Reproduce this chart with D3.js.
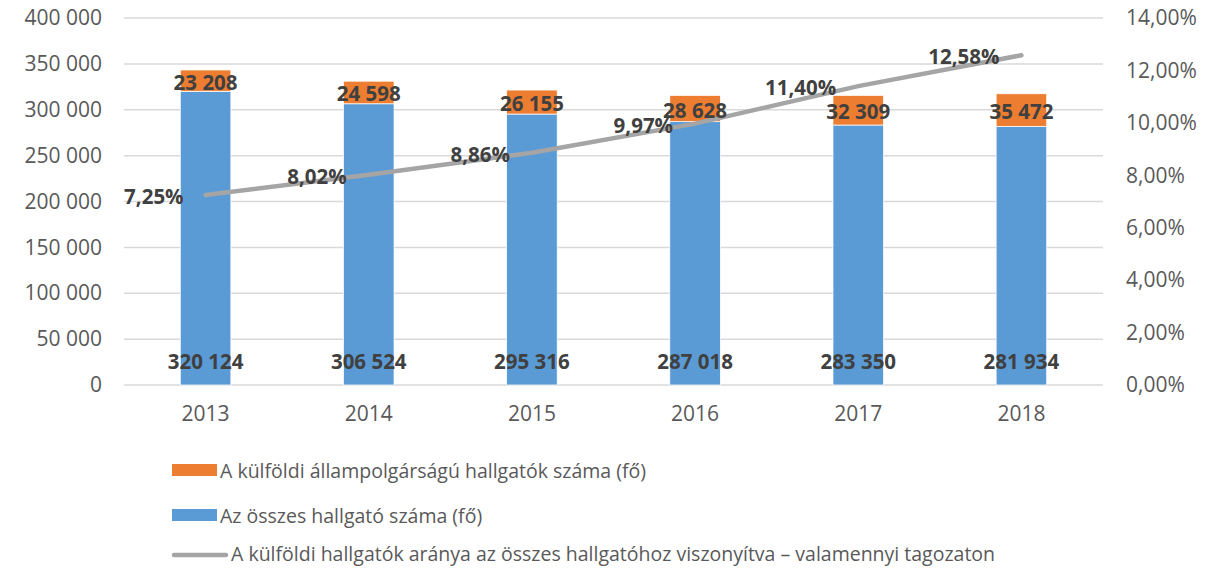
<!DOCTYPE html>
<html>
<head>
<meta charset="utf-8">
<script src="https://cdn.jsdelivr.net/npm/d3@7"></script>
<style>
  body { margin: 0; background: #fff; }
  text { font-family: "Open Sans", sans-serif; }
</style>
</head>
<body>
<svg id="chart"></svg>
<script>
var width = 1216;
var height = 569;

var years = ['2013', '2014', '2015', '2016', '2017', '2018'];
var totalStudents = [320124, 306524, 295316, 287018, 283350, 281934];
var foreignStudents = [23208, 24598, 26155, 28628, 32309, 35472];
var foreignShare = [7.25, 8.02, 8.86, 9.97, 11.40, 12.58];
var leftTicks = [0, 50000, 100000, 150000, 200000, 250000, 300000, 350000, 400000];
var rightTicks = [0, 2, 4, 6, 8, 10, 12, 14];
var legendLabels = [
    'A külföldi állampolgárságú hallgatók száma (fő)',
    'Az összes hallgató száma (fő)',
    'A külföldi hallgatók aránya az összes hallgatóhoz viszonyítva – valamennyi tagozaton'
];

var hu = d3.formatLocale({decimal: ',', thousands: ' ', grouping: [3], currency: ['', ' Ft']});
var fmtNum = hu.format(',d');
var fmtPct = hu.format('.2f');

var plot = {left: 124, right: 1103, top: 18, bottom: 385};

var svg = d3.select('#chart')
    .attr('width', width)
    .attr('height', height);

var x = d3.scaleBand()
    .domain(years)
    .range([plot.left, plot.right])
    .paddingInner(0.69)
    .paddingOuter(0.345);

var yLeft = d3.scaleLinear().domain([0, 400000]).range([plot.bottom, plot.top]);
var yRight = d3.scaleLinear().domain([0, 14]).range([plot.bottom, plot.top]);

// gridlines
svg.append('g')
    .selectAll('line')
    .data(leftTicks)
    .enter()
    .append('line')
        .attr('x1', plot.left)
        .attr('x2', plot.right)
        .attr('y1', d => yLeft(d))
        .attr('y2', d => yLeft(d))
        .attr('stroke', '#d9d9d9')
        .attr('stroke-width', 1.5);

function styleAxis(g) {
    g.select('.domain').remove();
    g.selectAll('text')
        .attr('fill', '#595959')
        .style('font-size', '21px')
        .style('font-family', '"Open Sans", sans-serif');
}

// left axis
svg.append('g')
    .attr('transform', 'translate(' + (plot.left - 22) + ',0)')
    .call(d3.axisLeft(yLeft).tickValues(leftTicks).tickFormat(fmtNum).tickSize(0).tickPadding(0))
    .call(styleAxis);

// right axis
svg.append('g')
    .attr('transform', 'translate(' + (plot.right + 23) + ',0)')
    .call(d3.axisRight(yRight).tickValues(rightTicks).tickFormat(d => fmtPct(d) + '%').tickSize(0).tickPadding(0))
    .call(styleAxis);

// bottom axis labels
svg.append('g')
    .attr('transform', 'translate(0,' + (plot.bottom + 21) + ')')
    .call(d3.axisBottom(x).tickSize(0).tickPadding(0))
    .call(styleAxis);

var rows = years.map(function(y, i) {
    return {year: y, total: totalStudents[i], foreign: foreignStudents[i], share: foreignShare[i]};
});

// stacked bars
var bars = svg.append('g');
bars.selectAll('.blue')
    .data(rows)
    .enter()
    .append('rect')
        .classed('blue', true)
        .attr('x', d => x(d.year))
        .attr('width', x.bandwidth())
        .attr('y', d => yLeft(d.total))
        .attr('height', d => yLeft(0) - yLeft(d.total))
        .attr('fill', '#5b9bd5')
        .attr('stroke', '#fff')
        .attr('stroke-width', 0.75);

bars.selectAll('.orange')
    .data(rows)
    .enter()
    .append('rect')
        .classed('orange', true)
        .attr('x', d => x(d.year))
        .attr('width', x.bandwidth())
        .attr('y', d => yLeft(d.total + d.foreign))
        .attr('height', d => yLeft(d.total) - yLeft(d.total + d.foreign))
        .attr('fill', '#ed7d31')
        .attr('stroke', '#fff')
        .attr('stroke-width', 0.75);

// line
var line = d3.line()
    .x(d => x(d.year) + x.bandwidth() / 2)
    .y(d => yRight(d.share));

svg.append('path')
    .datum(rows)
    .attr('d', line)
    .attr('fill', 'none')
    .attr('stroke', '#a5a5a5')
    .attr('stroke-width', 4.5)
    .attr('stroke-linecap', 'round')
    .attr('stroke-linejoin', 'round');

// labels
var labels = svg.append('g')
    .attr('fill', '#404040')
    .style('font-size', '20.5px')
    .style('font-weight', 'bold');

labels.selectAll('.lbl-total')
    .data(rows)
    .enter()
    .append('text')
        .attr('x', d => x(d.year) + x.bandwidth() / 2)
        .attr('y', yLeft(0) - 24)
        .attr('text-anchor', 'middle')
        .attr('dominant-baseline', 'central')
        .text(d => fmtNum(d.total));

labels.selectAll('.lbl-foreign')
    .data(rows)
    .enter()
    .append('text')
        .attr('x', d => x(d.year) + x.bandwidth() / 2)
        .attr('y', d => (yLeft(d.total) + yLeft(d.total + d.foreign)) / 2 + 1)
        .attr('text-anchor', 'middle')
        .attr('dominant-baseline', 'central')
        .text(d => fmtNum(d.foreign));

labels.selectAll('.lbl-share')
    .data(rows)
    .enter()
    .append('text')
        .attr('x', d => x(d.year) + x.bandwidth() / 2 - 22)
        .attr('y', d => yRight(d.share) + 1)
        .attr('text-anchor', 'end')
        .attr('dominant-baseline', 'central')
        .text(d => fmtPct(d.share) + '%');

// legend
var legend = svg.append('g')
    .style('font-size', '19.5px')
    .attr('fill', '#595959');

var legendY = [470, 515, 553];

legend.append('rect')
    .attr('x', 172).attr('y', legendY[0] - 6)
    .attr('width', 45).attr('height', 12)
    .attr('fill', '#ed7d31');
legend.append('rect')
    .attr('x', 172).attr('y', legendY[1] - 6)
    .attr('width', 45).attr('height', 12)
    .attr('fill', '#5b9bd5');
legend.append('line')
    .attr('x1', 174).attr('x2', 226)
    .attr('y1', legendY[2] + 2).attr('y2', legendY[2] + 2)
    .attr('stroke', '#a5a5a5')
    .attr('stroke-width', 4.5)
    .attr('stroke-linecap', 'round');

legend.selectAll('text')
    .data(legendLabels)
    .enter()
    .append('text')
        .attr('x', (d, i) => i === 2 ? 231 : 220)
        .attr('y', (d, i) => legendY[i])
        .attr('dominant-baseline', 'central')
        .text(d => d);
</script>
</body>
</html>
